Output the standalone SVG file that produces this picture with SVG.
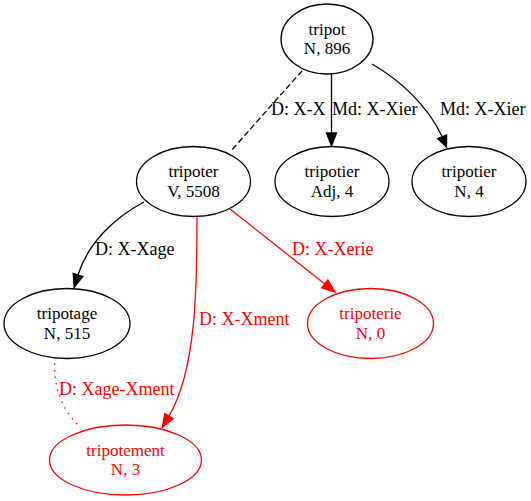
<svg xmlns="http://www.w3.org/2000/svg" width="531" height="501" viewBox="0 0 531 501" font-family="Liberation Serif, Times New Roman, Times, serif" font-size="18">
<defs>
<style>
.n ellipse{fill:none;stroke:#000;stroke-width:1.3}
.n.r ellipse{stroke:#f00}
.n text{font-size:17px}
text{text-anchor:middle;fill:#000}
.r text, text.r{fill:#f00}
.e path{fill:none;stroke:#000;stroke-width:1.3}
.e path.red{stroke:#f00}
.e polygon{fill:#000;stroke:#000;stroke-width:1.3}
.e polygon.red{fill:#f00;stroke:#f00}
text.l{text-anchor:start}
</style>
</defs>
<rect width="531" height="501" fill="#fff"/>
<g id="edges" class="e">
<path d="M302,71 C285,90 260,118 231,151" stroke-dasharray="6,3"/>
<text class="l" x="271" y="115">D: X-X</text>
<path d="M331.5,74 L331.5,133"/>
<polygon points="326.5,133 331.5,146 336.5,133"/>
<text class="l" x="332" y="115">Md: X-Xier</text>
<path d="M372,64 C400,80 428,106 442.2,136.75"/>
<polygon points="437.6,138.6 446.5,147 446.6,134.9"/>
<text class="l" x="440" y="115">Md: X-Xier</text>
<path d="M144,202 C114,218 88,243 78,275"/>
<polygon points="82.77,276.49 74.1,287.4 73.23,273.51"/>
<text class="l" x="95" y="255">D: X-Xage</text>
<path class="red" d="M197,217 C197,290 196,370 169,416"/>
<polygon class="red" points="173.31,418.53 162.4,427.2 164.69,413.47"/>
<text class="l r" x="199" y="325">D: X-Xment</text>
<path class="red" d="M230,209 L324.8,283.9"/>
<polygon class="red" points="321.7,287.8 335,292 327.9,280"/>
<text class="l r" x="292" y="255">D: X-Xerie</text>
<path class="red" d="M55,357 C53,380 58,405 78,425" stroke-dasharray="1.5,5"/>
<text class="l r" x="59" y="395">D: Xage-Xment</text>
</g>
<g id="tripot" class="n">
<ellipse cx="327" cy="39" rx="46" ry="35"/>
<text x="327" y="34.5">tripot</text>
<text x="327" y="54">N, 896</text>
</g>
<g id="tripoter" class="n">
<ellipse cx="193.5" cy="181.5" rx="57" ry="35"/>
<text x="193.5" y="177">tripoter</text>
<text x="193.5" y="196.5">V, 5508</text>
</g>
<g id="tripotier_adj" class="n">
<ellipse cx="332" cy="181.5" rx="57" ry="35"/>
<text x="332" y="177">tripotier</text>
<text x="332" y="196.5">Adj, 4</text>
</g>
<g id="tripotier_n" class="n">
<ellipse cx="469" cy="181.5" rx="57" ry="35"/>
<text x="469" y="177">tripotier</text>
<text x="469" y="196.5">N, 4</text>
</g>
<g id="tripotage" class="n">
<ellipse cx="67" cy="323.5" rx="63" ry="35"/>
<text x="67" y="319">tripotage</text>
<text x="67" y="338.5">N, 515</text>
</g>
<g id="tripoterie" class="n r">
<ellipse cx="370.5" cy="323.5" rx="63" ry="35"/>
<text x="370.5" y="319">tripoterie</text>
<text x="370.5" y="338.5">N, 0</text>
</g>
<g id="tripotement" class="n r">
<ellipse cx="125.5" cy="460" rx="76" ry="35"/>
<text x="125.5" y="455.5">tripotement</text>
<text x="125.5" y="475">N, 3</text>
</g>
</svg>
